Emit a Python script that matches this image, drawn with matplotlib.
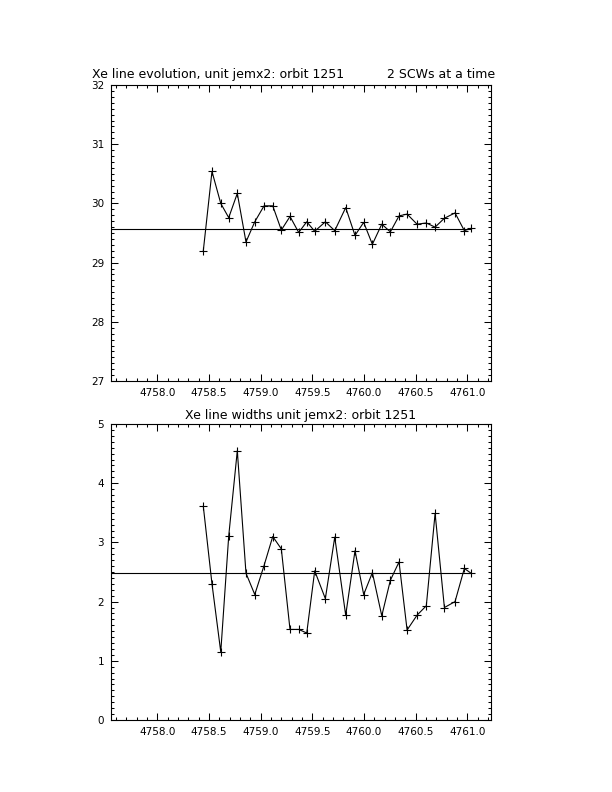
import matplotlib
matplotlib.use("Agg")
import matplotlib.pyplot as plt
from matplotlib.ticker import MultipleLocator, FormatStrFormatter

# temps (jours) des paires de SCW
temps = [4758.445, 4758.529, 4758.614, 4758.691, 4758.774, 4758.858, 4758.943,
         4759.033, 4759.117, 4759.200, 4759.284, 4759.368, 4759.446, 4759.523,
         4759.626, 4759.717, 4759.823, 4759.913, 4759.997, 4760.081, 4760.172,
         4760.255, 4760.339, 4760.417, 4760.513, 4760.603, 4760.688, 4760.778,
         4760.881, 4760.971, 4761.036]

# position de la raie Xe
position = [29.20, 30.54, 30.00, 29.76, 30.17, 29.35, 29.69, 29.96, 29.96, 29.55,
            29.78, 29.51, 29.69, 29.53, 29.69, 29.54, 29.93, 29.46, 29.68, 29.31,
            29.65, 29.52, 29.79, 29.82, 29.65, 29.67, 29.60, 29.75, 29.84, 29.54,
            29.58]
position_moy = 29.57

# largeur de la raie Xe
largeur = [3.61, 2.30, 1.15, 3.11, 4.55, 2.48, 2.12, 2.61, 3.10, 2.89, 1.53, 1.53,
           1.47, 2.52, 2.05, 3.09, 1.77, 2.86, 2.12, 2.49, 1.76, 2.36, 2.67, 1.52,
           1.77, 1.93, 3.49, 1.90, 2.00, 2.56, 2.48]
largeur_moy = 2.48

xmin, xmax = 4757.552, 4761.229

fig = plt.figure(figsize=(6.12, 7.92), dpi=100)
ax1 = fig.add_axes([0.1814, 0.5189, 0.6209, 0.3737])
ax2 = fig.add_axes([0.1814, 0.0909, 0.6209, 0.3737])


def styliser(ax, ylim, ymin_pas):
    ax.set_xlim(xmin, xmax)
    ax.set_ylim(*ylim)
    ax.xaxis.set_major_locator(MultipleLocator(0.5))
    ax.xaxis.set_minor_locator(MultipleLocator(0.1))
    ax.xaxis.set_major_formatter(FormatStrFormatter("%.1f"))
    ax.yaxis.set_major_locator(MultipleLocator(1))
    ax.yaxis.set_minor_locator(MultipleLocator(ymin_pas))
    ax.yaxis.set_major_formatter(FormatStrFormatter("%d"))
    ax.tick_params(which="both", direction="in", top=True, right=True,
                   width=0.75, labelsize=7.5, colors="black")
    ax.tick_params(which="major", length=5, pad=5)
    ax.tick_params(which="minor", length=2.5)
    for s in ax.spines.values():
        s.set_linewidth(0.8)


# Panneau du haut : évolution de la position
ax1.plot([xmin, temps[-1]], [position_moy, position_moy], color="black", lw=0.8)
ax1.plot(temps, position, color="black", lw=0.8, marker="+", ms=6, mew=0.8)
styliser(ax1, (27, 32), 0.1)
fig.text(92 / 612, 1 - 78 / 792, "Xe line evolution, unit jemx2: orbit 1251",
         fontsize=9, ha="left", va="baseline")
fig.text(495 / 612, 1 - 78 / 792, "2 SCWs at a time",
         fontsize=9, ha="right", va="baseline")

# Panneau du bas : largeur de la raie
ax2.plot([xmin, temps[-1]], [largeur_moy, largeur_moy], color="black", lw=0.8)
ax2.plot(temps, largeur, color="black", lw=0.8, marker="+", ms=6, mew=0.8)
styliser(ax2, (0, 5), 0.1)
fig.text(301 / 612, 1 - 419 / 792, "Xe line widths unit jemx2: orbit 1251",
         fontsize=9, ha="center", va="baseline")

fig.savefig("out.png", dpi=100)
